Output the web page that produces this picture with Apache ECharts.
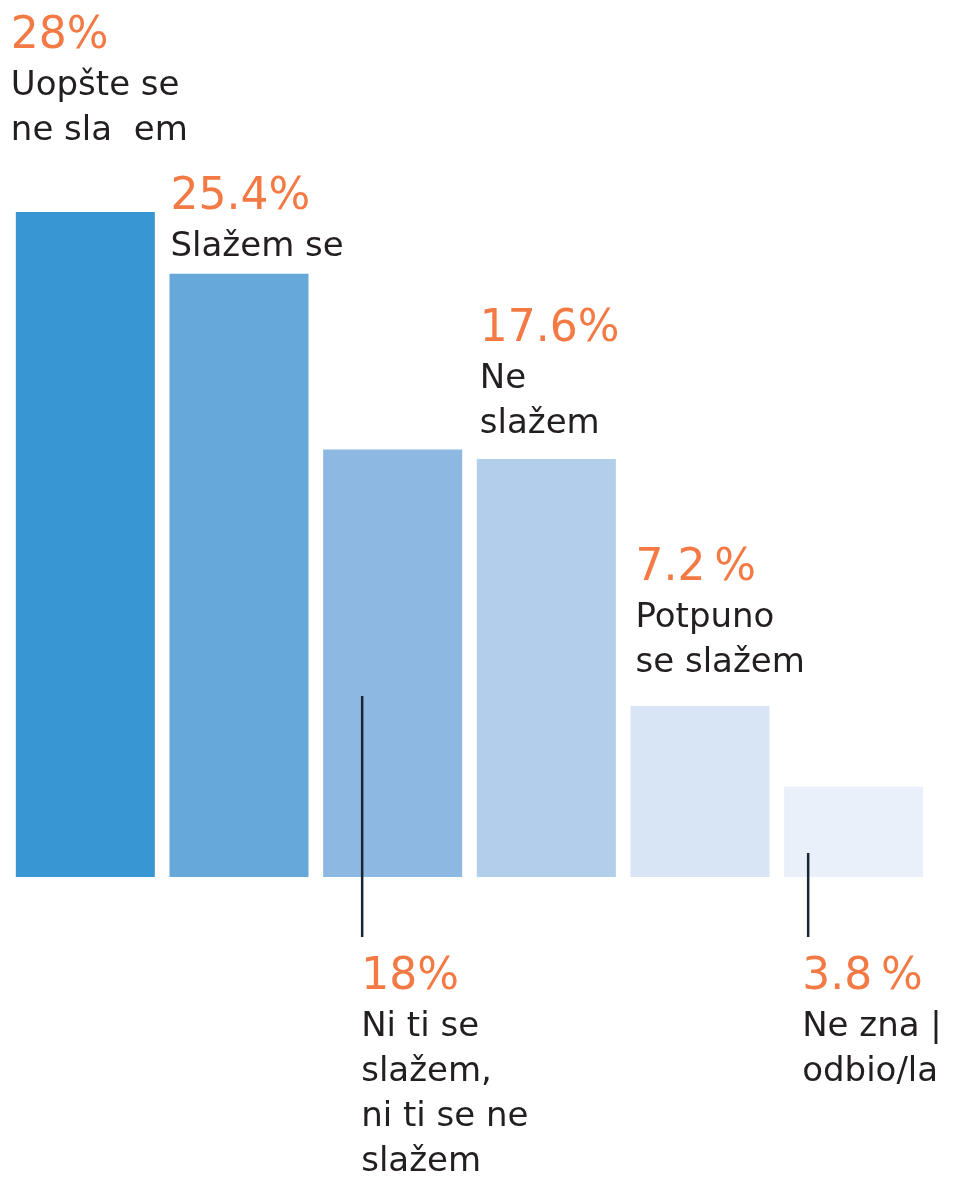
<!DOCTYPE html>
<html>
<head>
<meta charset="utf-8">
<script src="https://cdn.jsdelivr.net/npm/echarts@6/dist/echarts.min.js"></script>
<style>
  html, body { margin: 0; padding: 0; background: #ffffff; }
  #chart { width: 958px; height: 1180px; }
</style>
</head>
<body>
<div id="chart"></div>
<script>
// ---- data ----
const categories = ['Uopšte se ne slažem', 'Slažem se', 'Ni ti se slažem, ni ti se ne slažem', 'Ne slažem', 'Potpuno se slažem', 'Ne zna | odbio/la'];
const values = [28, 25.4, 18, 17.6, 7.2, 3.8];
const valueLabels = ['28%', '25.4%', '18%', '17.6%', '7.2\u202F%', '3.8\u202F%'];
const labelLines = [
  ['Uopšte se', 'ne sla  em'],
  ['Slažem se'],
  ['Ni ti se', 'slažem,', 'ni ti se ne', 'slažem'],
  ['Ne', 'slažem'],
  ['Potpuno', 'se slažem'],
  ['Ne zna |', 'odbio/la']
];
const barColors = ['#3897d3', '#66a8da', '#8cb8e2', '#b2ceea', '#d8e5f4', '#e9f0f9'];

// ---- layout (not data) ----
const labelSide = ['above', 'above', 'below', 'above', 'above', 'below'];
const labelRise = [160, 61, 116, 114, 122, 116];   // px from bar top / baseline to percent baseline
const labelShift = [-5, 1, 38, 3, 5, 18];          // px from bar left edge
const leaderShift = [0, 0, 39, 0, 0, 24];          // px from bar left edge
const leaderUp = [0, 0, 181, 0, 0, 24];            // px above baseline
const leaderDown = 60;                              // px below baseline
const BAR_W = 139;
const PCT_F = 44, TXT_F = 34;
const PCT_STEP = 46, LINE_STEP = 45;
const ORANGE = '#f47a45', DARK = '#231f20';
const FONT = '"DejaVu Sans", sans-serif';

const chart = echarts.init(document.getElementById('chart'), null, { renderer: 'canvas' });

chart.setOption({
  animation: false,
  backgroundColor: '#ffffff',
  grid: { left: 8.5, right: 27.5, top: 212, bottom: 303, containLabel: false },
  xAxis: {
    type: 'category', data: categories,
    axisLine: { show: false }, axisTick: { show: false }, axisLabel: { show: false }, splitLine: { show: false }
  },
  yAxis: {
    type: 'value', min: 0, max: 28,
    axisLine: { show: false }, axisTick: { show: false }, axisLabel: { show: false }, splitLine: { show: false }
  },
  series: [{
    type: 'bar',
    barWidth: BAR_W,
    data: values.map((v, i) => ({ value: v, itemStyle: { color: barColors[i] } })),
    label: { show: false }
  }]
});

function txt(x, baseline, text, size, color, weight) {
  return {
    type: 'text',
    x: x,
    y: baseline - 0.346 * size,
    z: 100,
    silent: true,
    style: {
      text: text,
      fill: color,
      font: (weight || 'normal') + ' ' + size + 'px ' + FONT,
      fontSize: size,
      fontFamily: FONT,
      fontWeight: weight || 'normal',
      align: 'left', verticalAlign: 'middle',
      textAlign: 'left', textVerticalAlign: 'middle'
    }
  };
}

const elements = [];
values.forEach((v, i) => {
  const top = chart.convertToPixel({ gridIndex: 0 }, [i, v]);
  const base = chart.convertToPixel({ gridIndex: 0 }, [i, 0]);
  const left = top[0] - BAR_W / 2;
  let pctBase;
  if (labelSide[i] === 'above') {
    pctBase = top[1] - labelRise[i];
  } else {
    pctBase = base[1] + labelRise[i];
    const lx = left + leaderShift[i];
    elements.push({
      type: 'line', silent: true, z: 100,
      shape: { x1: lx, y1: base[1] - leaderUp[i], x2: lx, y2: base[1] + leaderDown },
      style: { stroke: '#1a2533', lineWidth: 2.5 }
    });
  }
  const tx = left + labelShift[i];
  elements.push(txt(tx, pctBase, valueLabels[i], PCT_F, ORANGE, 'normal'));
  labelLines[i].forEach((line, k) => {
    elements.push(txt(tx, pctBase + PCT_STEP + k * LINE_STEP, line, TXT_F, DARK, 'normal'));
  });
});

chart.setOption({ graphic: { elements: elements } });
</script>
</body>
</html>
